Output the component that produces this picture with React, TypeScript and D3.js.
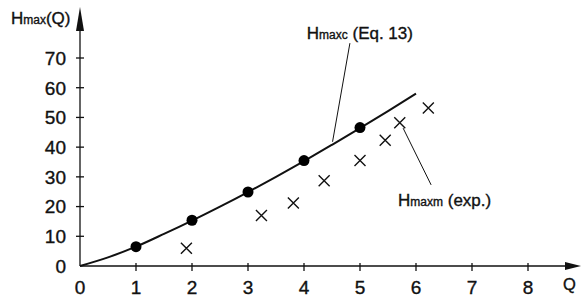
import React, { useEffect, useRef } from "react";
import * as d3 from "d3";

// calculated curve Hmaxc (Eq. 13)
const curveQ = [0, 0.5, 1, 1.5, 2, 2.5, 3, 3.5, 4, 4.5, 5, 5.5, 6];
const curveH = [0, 2.9, 6.5, 10.8, 15.3, 20.0, 24.9, 30.0, 35.3, 40.8, 46.4, 52.1, 58.0];

// calculated points (filled dots)
const dotQ = [1, 2, 3, 4, 5];
const dotH = [6.5, 15.4, 24.9, 35.5, 46.6];

// measured points Hmaxm (exp.)
const crossQ = [1.9, 3.24, 3.81, 4.36, 5.0, 5.45, 5.71, 6.22];
const crossH = [6.0, 17.0, 21.2, 28.7, 35.5, 42.3, 48.2, 53.2];

const xTicks = [0, 1, 2, 3, 4, 5, 6, 7, 8];
const yTicks = [0, 10, 20, 30, 40, 50, 60, 70];

const FONT = "'Liberation Sans', Arial, Helvetica, sans-serif";

const App = () => {
  const ref = useRef<SVGSVGElement>(null);

  useEffect(() => {
    const svg = d3.select(ref.current);
    svg.selectAll("*").remove();

    const x = d3.scaleLinear().domain([0, 8]).range([80, 528]);
    const y = d3.scaleLinear().domain([0, 70]).range([266, 58]);

    const g = svg.append("g").style("font-family", FONT).attr("fill", "#111");
    const txt = svg.append("g")
      .style("font-family", FONT)
      .attr("fill", "#111")
      .attr("stroke", "#111")
      .attr("stroke-width", 0.35);

    // axes
    g.append("line")
      .attr("x1", x(0)).attr("x2", 568)
      .attr("y1", y(0)).attr("y2", y(0))
      .attr("stroke", "#111").attr("stroke-width", 1.3);
    g.append("line")
      .attr("x1", x(0)).attr("x2", x(0))
      .attr("y1", y(0)).attr("y2", 28)
      .attr("stroke", "#111").attr("stroke-width", 1.3);

    // arrow heads
    g.append("path")
      .attr("d", `M${565},${y(0) - 4} L${581},${y(0)} L${565},${y(0) + 4} Z`)
      .attr("fill", "#111");
    g.append("path")
      .attr("d", `M${x(0) - 4},${31} L${x(0)},${7} L${x(0) + 4},${31} Z`)
      .attr("fill", "#111");

    // x ticks
    g.selectAll(".xt")
      .data(xTicks.slice(1))
      .join("line")
      .attr("x1", (d) => x(d)).attr("x2", (d) => x(d))
      .attr("y1", y(0) - 3).attr("y2", y(0) + 5)
      .attr("stroke", "#111").attr("stroke-width", 1.3);
    txt.selectAll(".xl")
      .data(xTicks)
      .join("text")
      .attr("x", (d) => x(d))
      .attr("y", 294)
      .attr("text-anchor", "middle")
      .style("font-size", "19px")
      .text((d) => d);

    // y ticks
    g.selectAll(".yt")
      .data(yTicks.slice(1))
      .join("line")
      .attr("x1", x(0) - 4).attr("x2", x(0) + 4)
      .attr("y1", (d) => y(d)).attr("y2", (d) => y(d))
      .attr("stroke", "#111").attr("stroke-width", 1.3);
    txt.selectAll(".yl")
      .data(yTicks)
      .join("text")
      .attr("x", 66)
      .attr("y", (d) => y(d) + 6.8)
      .attr("text-anchor", "end")
      .style("font-size", "19px")
      .text((d) => d);

    // axis titles
    const yt = txt.append("text").attr("x", 11).attr("y", 24).style("font-size", "17px");
    yt.append("tspan").text("H");
    yt.append("tspan").style("font-size", "12px").text("max");
    yt.append("tspan").text("(Q)");
    txt.append("text").attr("x", 563).attr("y", 290).style("font-size", "16.5px").text("Q");

    // curve
    const line = d3
      .line<number>()
      .x((d, i) => x(curveQ[i]))
      .y((d) => y(d))
      .curve(d3.curveMonotoneX);
    g.append("path")
      .attr("d", line(curveH))
      .attr("fill", "none")
      .attr("stroke", "#111")
      .attr("stroke-width", 2);

    // dots
    g.selectAll(".dot")
      .data(dotH)
      .join("circle")
      .attr("cx", (d, i) => x(dotQ[i]))
      .attr("cy", (d) => y(d))
      .attr("r", 5.5)
      .attr("fill", "#000");

    // crosses
    const s = 5.5;
    g.selectAll(".cross")
      .data(crossH)
      .join("path")
      .attr("d", (d, i) => {
        const cx = x(crossQ[i]);
        const cy = y(d);
        return `M${cx - s},${cy - s}L${cx + s},${cy + s}M${cx - s},${cy + s}L${cx + s},${cy - s}`;
      })
      .attr("stroke", "#111")
      .attr("stroke-width", 1.4)
      .attr("fill", "none");

    // leader lines + labels
    g.append("line")
      .attr("x1", x(4.82)).attr("y1", y(75.0))
      .attr("x2", x(4.51)).attr("y2", y(41.8))
      .attr("stroke", "#111").attr("stroke-width", 1);
    g.append("line")
      .attr("x1", x(5.77)).attr("y1", y(46.4))
      .attr("x2", x(6.27)).attr("y2", y(27.3))
      .attr("stroke", "#111").attr("stroke-width", 1);

    const lc = txt.append("text").attr("x", x(4.05)).attr("y", y(76.4)).style("font-size", "17px");
    lc.append("tspan").text("H");
    lc.append("tspan").style("font-size", "12px").text("maxc");
    lc.append("tspan").text(" (Eq. 13)");

    const lm = txt.append("text").attr("x", x(5.68)).attr("y", y(20.3)).style("font-size", "17px");
    lm.append("tspan").text("H");
    lm.append("tspan").style("font-size", "12px").text("maxm");
    lm.append("tspan").text(" (exp.)");
  }, []);

  return (
    <svg
      ref={ref}
      width={581}
      height={298}
      style={{ position: "absolute", left: 0, top: 0, background: "#fff" }}
    />
  );
};

export default App;
